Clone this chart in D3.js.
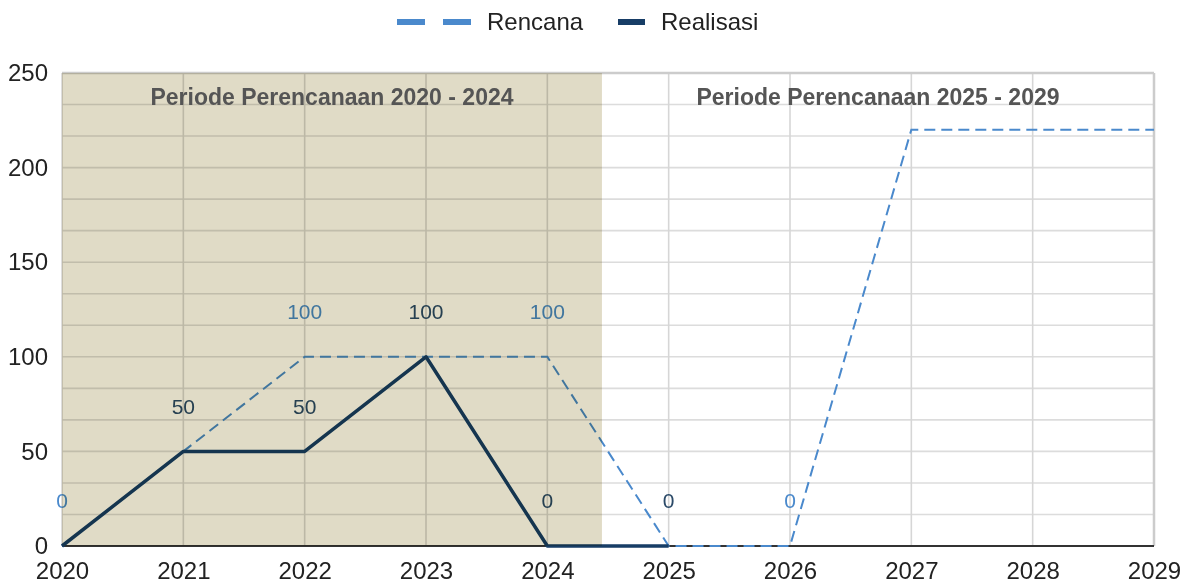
<!DOCTYPE html>
<html>
<head>
<meta charset="utf-8">
<script src="https://cdn.jsdelivr.net/npm/d3@7"></script>
<style>
  body { margin: 0; background: #fff; }
  svg { display: block; background: #fff; font-family: "Liberation Sans", Arial, sans-serif; }
</style>
</head>
<body>
<svg id="chart"></svg>
<script>
// data
var years = [2020, 2021, 2022, 2023, 2024, 2025, 2026, 2027, 2028, 2029];
var rencana = [0, 50, 100, 100, 100, 0, 0, 220, 220, 220];
var realisasi = [0, 50, 50, 100, 0, 0];              // 2020 - 2025
var rencanaLabelYears = [2020, 2022, 2024, 2026];
var realisasiLabelYears = [2021, 2022, 2023, 2024, 2025];
var yTicks = [0, 50, 100, 150, 200, 250];
var periodNames = ["Periode Perencanaan 2020 - 2024", "Periode Perencanaan 2025 - 2029"];
var periodBounds = [[2020, 2024.45], [2024.45, 2029]];
var seriesNames = ["Rencana", "Realisasi"];

var W = 1190, H = 586;
var margin = {top: 73, right: 36, bottom: 40, left: 62},
    width = W - margin.left - margin.right,
    height = H - margin.top - margin.bottom;

var colRencana = "#4a89cc",
    colRealisasi = "#173d66";

var svg = d3.select("#chart").attr("width", W).attr("height", H),
    g = svg.append("g").attr("transform", "translate(" + margin.left + "," + margin.top + ")");

var x = d3.scaleLinear().domain([2020, 2029]).range([0, width]);
var y = d3.scaleLinear().domain([0, 250]).range([height, 0]);

// grid
var minor = d3.range(1, 15).map(function(k) { return k * 50 / 3; });
g.append("g").selectAll("line").data(minor).enter().append("line")
  .attr("x1", 0).attr("x2", width)
  .attr("y1", function(d) { return y(d); }).attr("y2", function(d) { return y(d); })
  .attr("stroke", "#dcdcdc").attr("stroke-width", 1.6);
g.append("g").selectAll("line").data(years).enter().append("line")
  .attr("x1", function(d) { return x(d); }).attr("x2", function(d) { return x(d); })
  .attr("y1", 0).attr("y2", height)
  .attr("stroke", "#d6d6d6").attr("stroke-width", 1.6);

// frame
g.append("line").attr("x1", 0).attr("x2", width).attr("y1", 0).attr("y2", 0)
  .attr("stroke", "#cccccc").attr("stroke-width", 2.5);
g.append("line").attr("x1", width).attr("x2", width).attr("y1", 0).attr("y2", height)
  .attr("stroke", "#cccccc").attr("stroke-width", 2.5);
g.append("line").attr("x1", 0).attr("x2", width).attr("y1", height).attr("y2", height)
  .attr("stroke", "#333333").attr("stroke-width", 2);

// lines
var line = d3.line()
  .x(function(d) { return x(d.x); })
  .y(function(d) { return y(d.y); });

g.append("path")
  .datum(rencana.map(function(v, i) { return {x: years[i], y: v}; }))
  .attr("fill", "none")
  .attr("stroke", colRencana)
  .attr("stroke-width", 2)
  .attr("stroke-dasharray", "11,6")
  .attr("d", line);

g.append("path")
  .datum(realisasi.map(function(v, i) { return {x: years[i], y: v}; }))
  .attr("fill", "none")
  .attr("stroke", colRealisasi)
  .attr("stroke-width", 3.5)
  .attr("stroke-linejoin", "round")
  .attr("d", line);

// data labels
g.append("g").selectAll("text").data(rencanaLabelYears).enter().append("text")
  .attr("x", function(d) { return x(d); })
  .attr("y", function(d) { return y(rencana[years.indexOf(d)]) - 45; })
  .attr("dy", "0.35em")
  .attr("text-anchor", "middle")
  .attr("font-size", 21)
  .attr("fill", colRencana)
  .text(function(d) { return rencana[years.indexOf(d)]; });

g.append("g").selectAll("text").data(realisasiLabelYears).enter().append("text")
  .attr("x", function(d) { return x(d); })
  .attr("y", function(d) { return y(realisasi[years.indexOf(d)]) - 45; })
  .attr("dy", "0.35em")
  .attr("text-anchor", "middle")
  .attr("font-size", 21)
  .attr("fill", "#2b4a68")
  .text(function(d) { return realisasi[years.indexOf(d)]; });

// period band (first period shaded, multiplied over everything below it)
g.append("rect")
  .attr("x", x(periodBounds[0][0]))
  .attr("y", 0)
  .attr("width", x(periodBounds[0][1]) - x(periodBounds[0][0]))
  .attr("height", height)
  .attr("fill", "#e0dbc6")
  .style("mix-blend-mode", "multiply");

g.append("g").selectAll("text").data(periodNames).enter().append("text")
  .attr("x", function(d, i) { return (x(periodBounds[i][0]) + x(periodBounds[i][1])) / 2; })
  .attr("y", 24)
  .attr("dy", "0.35em")
  .attr("text-anchor", "middle")
  .attr("font-size", 23)
  .attr("font-weight", "bold")
  .attr("fill", "#555555")
  .text(function(d) { return d; });

// axes
var yAxis = g.append("g").call(d3.axisLeft(y).tickValues(yTicks).tickSize(0).tickPadding(14));
yAxis.select(".domain").remove();
yAxis.selectAll("text").attr("font-size", 24).attr("fill", "#222").attr("font-family", null);

var xAxis = g.append("g").attr("transform", "translate(0," + height + ")")
  .call(d3.axisBottom(x).tickValues(years).tickFormat(d3.format("d")).tickSize(0).tickPadding(16));
xAxis.select(".domain").remove();
xAxis.selectAll("text").attr("font-size", 24).attr("fill", "#222").attr("font-family", null);

// legend
var legend = svg.append("g");
legend.selectAll("rect.ren").data([397, 443]).enter().append("rect")
  .attr("x", function(d) { return d; }).attr("y", 19).attr("width", 28).attr("height", 6)
  .attr("fill", colRencana);
legend.append("text").attr("x", 487).attr("y", 22).attr("dy", "0.35em")
  .attr("font-size", 24).attr("fill", "#222").text(seriesNames[0]);
legend.append("rect").attr("x", 618).attr("y", 19).attr("width", 27).attr("height", 6)
  .attr("fill", colRealisasi);
legend.append("text").attr("x", 661).attr("y", 22).attr("dy", "0.35em")
  .attr("font-size", 24).attr("fill", "#222").text(seriesNames[1]);
</script>
</body>
</html>
